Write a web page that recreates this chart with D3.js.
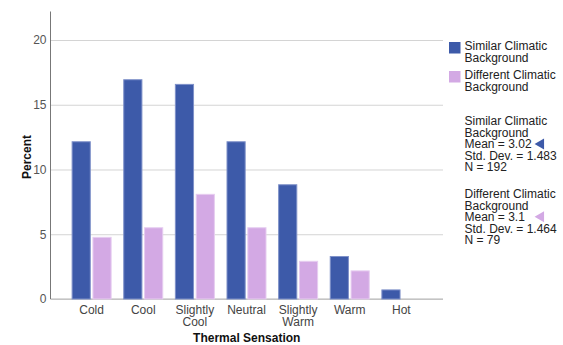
<!DOCTYPE html>
<html>
<head>
<meta charset="utf-8">
<script src="https://cdn.jsdelivr.net/npm/d3@7"></script>
<style>
  html, body { margin: 0; padding: 0; background: #fff; }
  svg { display: block; font-family: "Liberation Sans", Arial, sans-serif; }
</style>
</head>
<body>
<svg id="chart" width="563" height="345"></svg>
<script>
// ---- data ----
const categories = ["Cold", "Cool", "Slightly Cool", "Neutral", "Slightly Warm", "Warm", "Hot"];
const categoryLabelLines = [["Cold"], ["Cool"], ["Slightly", "Cool"], ["Neutral"], ["Slightly", "Warm"], ["Warm"], ["Hot"]];
const seriesNames = ["Similar Climatic Background", "Different Climatic Background"];
const seriesLegendLines = [["Similar Climatic", "Background"], ["Different Climatic", "Background"]];
const similarValues = [12.18, 16.97, 16.61, 12.18, 8.86, 3.32, 0.74];
const differentValues = [4.80, 5.54, 8.12, 5.54, 2.95, 2.21, 0];
const yTicks = [0, 5, 10, 15, 20];
const statsSimilar = ["Similar Climatic", "Background", "Mean = 3.02", "Std. Dev. = 1.483", "N = 192"];
const statsDifferent = ["Different Climatic", "Background", "Mean = 3.1", "Std. Dev. = 1.464", "N = 79"];
const xTitle = "Thermal Sensation";
const yTitle = "Percent";

const colors = ["#3d5aa9", "#d3a9e4"];
const strokes = ["#7f91c9", "#e6cdf0"];

const svg = d3.select("#chart");
const plot = { left: 50.5, right: 443, top: 11.5, bottom: 299 };

const y = d3.scaleLinear().domain([0, 22.2]).range([plot.bottom, plot.top]);
const x0 = d3.scaleBand().domain(categories).range([60, 433]).padding(0.225);
const x1 = d3.scaleBand().domain(seriesNames).range([0, x0.bandwidth()]).paddingInner(0.08);

// gridlines + tick labels
const yAxis = d3.axisLeft(y).tickValues(yTicks).tickSize(-(plot.right - plot.left)).tickPadding(4).tickFormat(d3.format("d"));
const gy = svg.append("g").attr("transform", `translate(${plot.left},0)`).call(yAxis);
gy.select(".domain").remove();
gy.selectAll(".tick line").attr("stroke", "#d4d4d4").attr("stroke-width", 1);
gy.selectAll(".tick text").attr("fill", "#555").style("font-size", "12px").style("font-family", "Liberation Sans, Arial, sans-serif");

// bottom baseline
svg.append("line").attr("x1", plot.left).attr("x2", plot.right).attr("y1", y(0)).attr("y2", y(0))
  .attr("stroke", "#b4b4b4").attr("stroke-width", 1);

// bars
const rows = categories.map((c, i) => ({ cat: c, vals: [similarValues[i], differentValues[i]] }));
const groups = svg.append("g").selectAll("g").data(rows).join("g")
  .attr("transform", d => `translate(${x0(d.cat)},0)`);
groups.selectAll("rect").data(d => d.vals.map((v, j) => ({ v, s: seriesNames[j], j })).filter(e => e.v > 0))
  .join("rect")
  .attr("x", d => x1(d.s) + 0.5)
  .attr("width", x1.bandwidth() - 1)
  .attr("y", d => y(d.v) + 0.5)
  .attr("height", d => y(0) - y(d.v) - 0.5)
  .attr("fill", d => colors[d.j])
  .attr("stroke", d => strokes[d.j])
  .attr("stroke-width", 1);

// left axis line
svg.append("line").attr("x1", plot.left).attr("x2", plot.left).attr("y1", plot.top).attr("y2", plot.bottom)
  .attr("stroke", "#777").attr("stroke-width", 1);

// category labels
const catG = svg.append("g");
categories.forEach((c, i) => {
  const t = catG.append("text")
    .attr("x", x0(c) + x0.bandwidth() / 2)
    .attr("y", 314)
    .attr("text-anchor", "middle")
    .attr("fill", "#444")
    .style("font-size", "12px");
  categoryLabelLines[i].forEach((line, k) => {
    t.append("tspan").attr("x", x0(c) + x0.bandwidth() / 2).attr("dy", k === 0 ? 0 : 11.5).text(line);
  });
});

// axis titles
svg.append("text").attr("x", (plot.left + plot.right) / 2).attr("y", 342)
  .attr("text-anchor", "middle").attr("font-weight", "bold").attr("fill", "#111")
  .style("font-size", "12px").text(xTitle);
svg.append("text").attr("transform", `translate(31,157) rotate(-90)`)
  .attr("text-anchor", "middle").attr("font-weight", "bold").attr("fill", "#111")
  .style("font-size", "12px").text(yTitle);

// legend
const legendY = [42, 71];
seriesNames.forEach((s, j) => {
  svg.append("rect").attr("x", 449).attr("y", legendY[j]).attr("width", 11.5).attr("height", 11.5)
    .attr("fill", colors[j]);
  const t = svg.append("text").attr("x", 464.5).attr("y", legendY[j] + 8.3)
    .attr("fill", "#222").style("font-size", "12px");
  seriesLegendLines[j].forEach((line, k) => {
    t.append("tspan").attr("x", 464.5).attr("dy", k === 0 ? 0 : 11.5).text(line);
  });
});

// stats blocks
const statBlocks = [statsSimilar, statsDifferent];
const statTop = [125.3, 198];
const meanSpans = [];
statBlocks.forEach((lines, j) => {
  const t = svg.append("text").attr("x", 464.5).attr("y", statTop[j])
    .attr("fill", "#222").style("font-size", "12px");
  lines.forEach((line, k) => {
    const sp = t.append("tspan").attr("x", 464.5).attr("dy", k === 0 ? 0 : 11.5).text(line);
    if (k === 2) meanSpans.push(sp);
  });
});
// mean markers placed just after the longest "Mean" line
let meanEnd = 0;
meanSpans.forEach(sp => { meanEnd = Math.max(meanEnd, 464.5 + sp.node().getComputedTextLength()); });
const triX = Math.max(519, meanEnd + 3);
statTop.forEach((top, j) => {
  const cy = top + 2 * 11.5 - 4.3;
  svg.append("path")
    .attr("d", `M${triX},${cy} L${triX + 9.5},${cy - 5.5} L${triX + 9.5},${cy + 5.5} Z`)
    .attr("fill", colors[j]);
});
</script>
</body>
</html>
